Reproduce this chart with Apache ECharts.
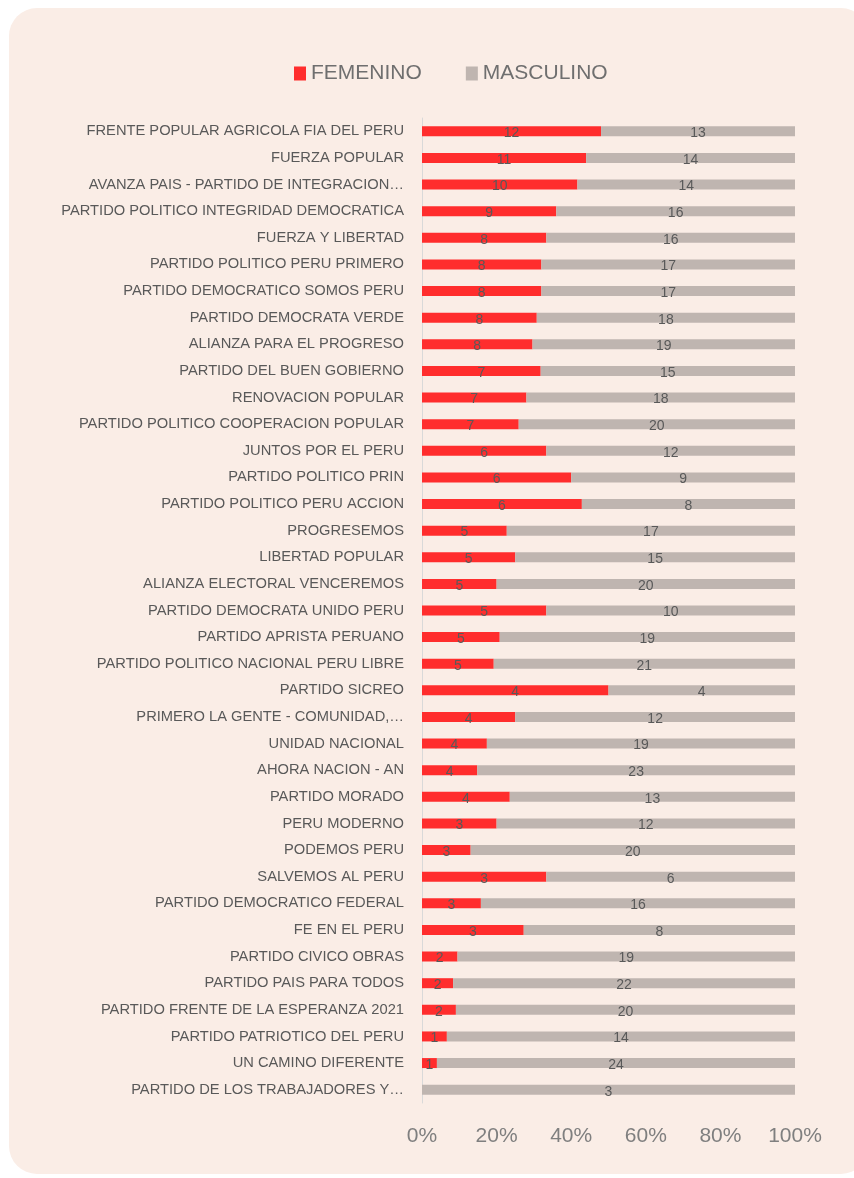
<!DOCTYPE html>
<html>
<head>
<meta charset="utf-8">
<script src="https://cdn.jsdelivr.net/npm/echarts@6/dist/echarts.min.js"></script>
<style>
  html, body { margin: 0; padding: 0; background: #ffffff; }
  #card {
    position: absolute; left: 9px; top: 8px; width: 860px; height: 1166px;
    background: #faede6; border-radius: 28px;
  }
  #chart { position: absolute; left: 0; top: 0; width: 854px; height: 1178px; }
</style>
</head>
<body>
<div id="card"></div>
<div id="chart"></div>
<script>
const parties = [
  "FRENTE POPULAR AGRICOLA FIA DEL PERU",
  "FUERZA POPULAR",
  "AVANZA PAIS - PARTIDO DE INTEGRACION…",
  "PARTIDO POLITICO INTEGRIDAD DEMOCRATICA",
  "FUERZA Y LIBERTAD",
  "PARTIDO POLITICO PERU PRIMERO",
  "PARTIDO DEMOCRATICO SOMOS PERU",
  "PARTIDO DEMOCRATA VERDE",
  "ALIANZA PARA EL PROGRESO",
  "PARTIDO DEL BUEN GOBIERNO",
  "RENOVACION POPULAR",
  "PARTIDO POLITICO COOPERACION POPULAR",
  "JUNTOS POR EL PERU",
  "PARTIDO POLITICO PRIN",
  "PARTIDO POLITICO PERU ACCION",
  "PROGRESEMOS",
  "LIBERTAD POPULAR",
  "ALIANZA ELECTORAL VENCEREMOS",
  "PARTIDO DEMOCRATA UNIDO PERU",
  "PARTIDO APRISTA PERUANO",
  "PARTIDO POLITICO NACIONAL PERU LIBRE",
  "PARTIDO SICREO",
  "PRIMERO LA GENTE - COMUNIDAD,…",
  "UNIDAD NACIONAL",
  "AHORA NACION - AN",
  "PARTIDO MORADO",
  "PERU MODERNO",
  "PODEMOS PERU",
  "SALVEMOS AL PERU",
  "PARTIDO DEMOCRATICO FEDERAL",
  "FE EN EL PERU",
  "PARTIDO CIVICO OBRAS",
  "PARTIDO PAIS PARA TODOS",
  "PARTIDO FRENTE DE LA ESPERANZA 2021",
  "PARTIDO PATRIOTICO DEL PERU",
  "UN CAMINO DIFERENTE",
  "PARTIDO DE LOS TRABAJADORES Y…"
];
const femenino = [12, 11, 10, 9, 8, 8, 8, 8, 8, 7, 7, 7, 6, 6, 6, 5, 5, 5, 5, 5, 5, 4, 4, 4, 4, 4, 3, 3, 3, 3, 3, 2, 2, 2, 1, 1, 0];
const masculino = [13, 14, 14, 16, 16, 17, 17, 18, 19, 15, 18, 20, 12, 9, 8, 17, 15, 20, 10, 19, 21, 4, 12, 19, 23, 13, 12, 20, 6, 16, 8, 19, 22, 20, 14, 24, 3];
const xTicks = ["0%", "20%", "40%", "60%", "80%", "100%"];

// 100% stacked: share of each party's total, label shows the count
const share = (arr) => arr.map((v, i) => ({
  value: (v / (femenino[i] + masculino[i])) * 100,
  count: v
}));

const labelStyle = {
  show: true,
  position: "inside",
  color: "#595959",
  fontSize: 14,
  offset: [0, 2],
  formatter: (p) => (p.data.count === 0 ? "" : p.data.count)
};

const chart = echarts.init(document.getElementById("chart"));
chart.setOption({
  backgroundColor: "transparent",
  textStyle: { fontFamily: "Liberation Sans, Arial, sans-serif" },
  legend: {
    top: 58,
    left: 289,
    itemWidth: 12,
    itemHeight: 14,
    itemGap: 44,
    icon: "rect",
    textStyle: { color: "#6f6f6f", fontSize: 21 },
    data: ["FEMENINO", "MASCULINO"]
  },
  grid: { top: 118, bottom: 75, left: 422, right: 59 },
  xAxis: {
    type: "value",
    min: 0,
    max: 100,
    interval: 20,
    splitLine: { show: false },
    axisLine: { show: false },
    axisTick: { show: false },
    axisLabel: {
      color: "#7f7f7f",
      fontSize: 21,
      margin: 23,
      formatter: (v) => xTicks[v / 20]
    }
  },
  yAxis: {
    type: "category",
    inverse: true,
    data: parties,
    axisLine: { show: true, lineStyle: { color: "#d9d9d9", width: 1 } },
    axisTick: { show: false },
    axisLabel: { color: "#595959", fontSize: 14.7, margin: 18 }
  },
  series: [
    {
      name: "FEMENINO",
      type: "bar",
      stack: "total",
      barWidth: 10,
      itemStyle: { color: "#ff2d2d" },
      label: labelStyle,
      data: share(femenino)
    },
    {
      name: "MASCULINO",
      type: "bar",
      stack: "total",
      barWidth: 10,
      itemStyle: { color: "#bfb5b0" },
      label: labelStyle,
      data: share(masculino)
    }
  ]
});
</script>
</body>
</html>
